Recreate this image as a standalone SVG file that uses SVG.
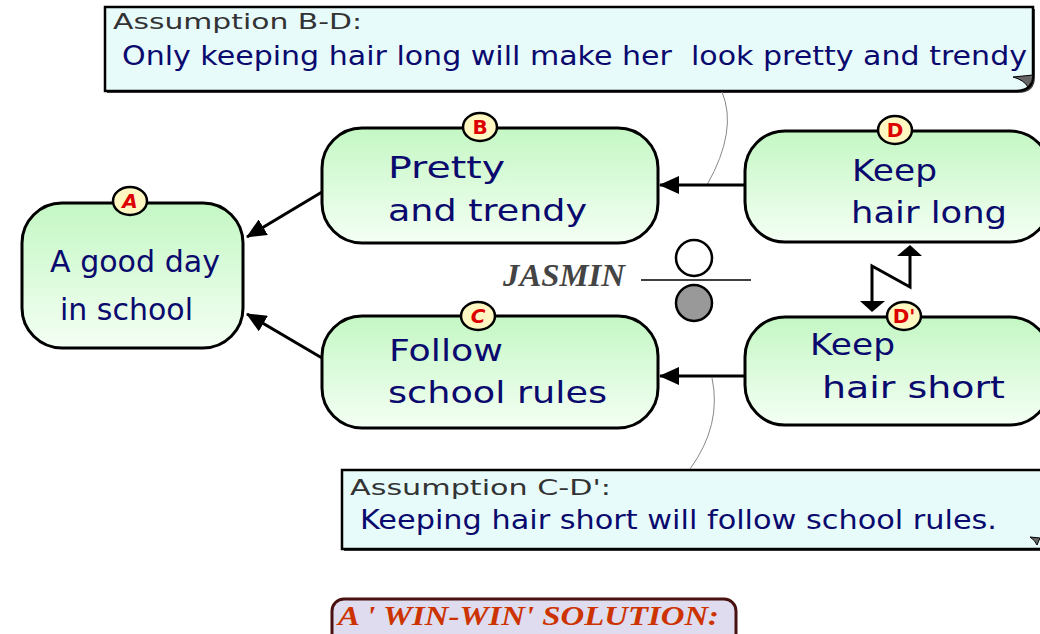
<svg xmlns="http://www.w3.org/2000/svg" width="1040" height="634" viewBox="0 0 1040 634">
<defs>
<linearGradient id="ng" x1="0" y1="0" x2="0" y2="1">
<stop offset="0" stop-color="#c4f7c4"/>
<stop offset="1" stop-color="#f4fff4"/>
</linearGradient>
<marker id="ah" markerUnits="userSpaceOnUse" markerWidth="20" markerHeight="18" refX="19" refY="9" orient="auto">
<path d="M0,0 L20,9 L0,18 Z" fill="#000"/>
</marker>
<style>
.node{fill:url(#ng);stroke:#000;stroke-width:3}
.nt{font-family:"DejaVu Sans","Liberation Sans",sans-serif;font-size:31px;fill:#0a0a6e}
.badge{fill:#fff7c2;stroke:#000;stroke-width:2.5}
.bt{font-family:"DejaVu Sans","Liberation Sans",sans-serif;font-size:20px;font-weight:bold;fill:#dd0000;text-anchor:middle}
.call{fill:#e8fbfb;stroke:#000;stroke-width:2.5}
.shadow{fill:#444}
.ch{font-family:"DejaVu Sans","Liberation Sans",sans-serif;font-size:22px;fill:#333}
.cb{font-family:"DejaVu Sans","Liberation Sans",sans-serif;font-size:26px;fill:#0a0a6e}
.conn{stroke:#000;stroke-width:3;fill:none}
.thin{stroke:#888;stroke-width:1;fill:none}
</style>
</defs>
<rect width="1040" height="634" fill="#fff"/>

<g id="callout-bd">
<path class="shadow" d="M107,9 H1035 V77 Q1035,93 1018,93 H107 Z"/>
<path class="call" d="M105,7 H1033 V75 Q1033,91 1016,91 H105 Z"/>
<path d="M1013,77 Q1024,80 1028,87 Q1033,82 1033,75 Z" fill="#666" stroke="#000" stroke-width="1"/>
<text class="ch" x="113" y="29" textLength="249" lengthAdjust="spacingAndGlyphs">Assumption B-D:</text>
<text class="cb" x="122" y="65" textLength="905" lengthAdjust="spacingAndGlyphs" xml:space="preserve">Only keeping hair long will make her  look pretty and trendy</text>
</g>

<g id="callout-cd">
<path class="shadow" d="M344,472 H1043 V551 H344 Z"/>
<path class="call" d="M342,470 H1044 V549 H342 Z"/>
<path d="M1030,537 Q1035,540 1037,545 L1040,538 Z" fill="#666" stroke="#000" stroke-width="1"/>
<text class="ch" x="350" y="495" textLength="261" lengthAdjust="spacingAndGlyphs">Assumption C-D':</text>
<text class="cb" x="360" y="529" font-size="25" textLength="637" lengthAdjust="spacingAndGlyphs">Keeping hair short will follow school rules.</text>
</g>

<g id="connectors">
<path class="thin" d="M722,92 Q738,130 707,185"/>
<path class="thin" d="M712,378 Q722,425 690,469"/>
<line class="conn" x1="322" y1="192" x2="247" y2="237" marker-end="url(#ah)"/>
<line class="conn" x1="322" y1="358" x2="247" y2="314" marker-end="url(#ah)"/>
<line class="conn" x1="745" y1="185" x2="660" y2="185" marker-end="url(#ah)"/>
<line class="conn" x1="745" y1="376" x2="660" y2="376" marker-end="url(#ah)"/>
<polyline class="conn" points="872,302 872,266 910,287 910,255" stroke-linejoin="miter"/>
<polygon points="860,301 885,301 872,312" fill="#000"/>
<polygon points="897,256 922,256 910,245" fill="#000"/>
</g>

<g id="node-A">
<rect class="node" x="22" y="203" width="221" height="145" rx="40" ry="40"/>
<text class="nt" x="50" y="272" font-size="33" textLength="170" lengthAdjust="spacingAndGlyphs">A good day</text>
<text class="nt" x="60" y="320" font-size="33" textLength="133" lengthAdjust="spacingAndGlyphs">in school</text>
<ellipse class="badge" cx="130" cy="201" rx="17" ry="14"/>
<text class="bt" x="130" y="208" font-style="italic">A</text>
</g>

<g id="node-B">
<rect class="node" x="322" y="128" width="336" height="115" rx="40" ry="40"/>
<text class="nt" x="388" y="178" textLength="117" lengthAdjust="spacingAndGlyphs">Pretty</text>
<text class="nt" x="388" y="221" textLength="199" lengthAdjust="spacingAndGlyphs">and trendy</text>
<ellipse class="badge" cx="480" cy="127" rx="17" ry="14"/>
<text class="bt" x="480" y="134">B</text>
</g>

<g id="node-C">
<rect class="node" x="322" y="316" width="336" height="112" rx="40" ry="40"/>
<text class="nt" x="389" y="361" textLength="114" lengthAdjust="spacingAndGlyphs">Follow</text>
<text class="nt" x="388" y="403" textLength="219" lengthAdjust="spacingAndGlyphs">school rules</text>
<ellipse class="badge" cx="478" cy="316" rx="17" ry="14"/>
<text class="bt" x="478" y="323" font-style="italic">C</text>
</g>

<g id="node-D">
<rect class="node" x="745" y="131" width="305" height="111" rx="40" ry="40"/>
<text class="nt" x="852" y="181" textLength="85" lengthAdjust="spacingAndGlyphs">Keep</text>
<text class="nt" x="851" y="223" textLength="156" lengthAdjust="spacingAndGlyphs">hair long</text>
<ellipse class="badge" cx="895" cy="130" rx="17" ry="14"/>
<text class="bt" x="895" y="137">D</text>
</g>

<g id="node-Dp">
<rect class="node" x="745" y="317" width="305" height="108" rx="40" ry="40"/>
<text class="nt" x="810" y="355" textLength="85" lengthAdjust="spacingAndGlyphs">Keep</text>
<text class="nt" x="822" y="398" textLength="183" lengthAdjust="spacingAndGlyphs">hair short</text>
<ellipse class="badge" cx="904" cy="316" rx="17" ry="14"/>
<text class="bt" x="904" y="323">D'</text>
</g>

<g id="jasmin">
<text x="503" y="286" font-family="Liberation Serif, serif" font-size="31" font-weight="bold" font-style="italic" fill="#444" textLength="122" lengthAdjust="spacingAndGlyphs">JASMIN</text>
<line x1="641" y1="280" x2="751" y2="280" stroke="#000" stroke-width="1.5"/>
<circle cx="694" cy="258" r="18" fill="#fff" stroke="#000" stroke-width="2.5"/>
<circle cx="694" cy="303" r="18" fill="#999" stroke="#000" stroke-width="2.5"/>
</g>

<g id="winwin">
<rect x="332" y="599" width="404" height="50" rx="12" ry="12" fill="#dedcee" stroke="#4a1010" stroke-width="3"/>
<text x="338" y="625" font-family="Liberation Serif, serif" font-size="27" font-weight="bold" font-style="italic" fill="#cc3300" textLength="381" lengthAdjust="spacingAndGlyphs">A ' WIN-WIN' SOLUTION:</text>
</g>
</svg>
